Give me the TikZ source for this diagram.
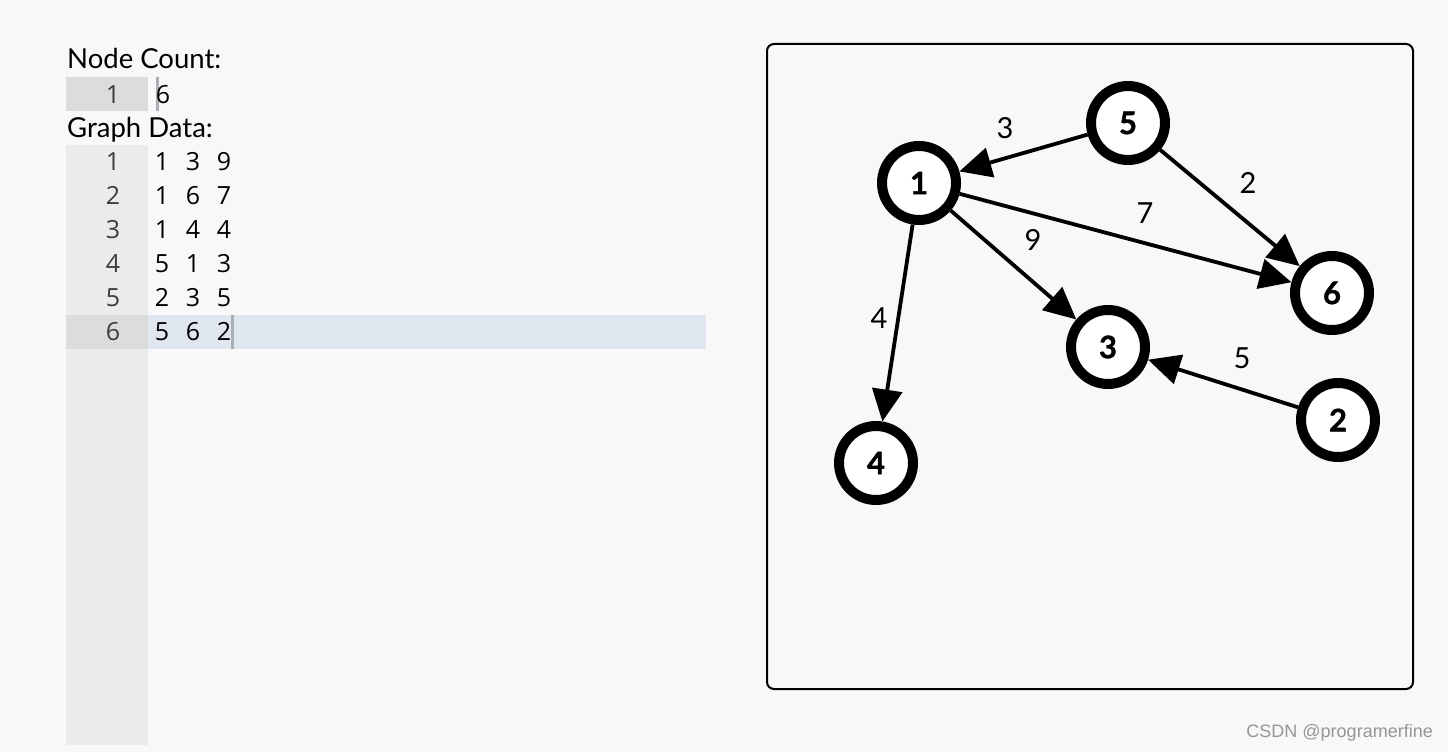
\documentclass[tikz,border=0pt]{standalone}
\usepackage{fontspec}
\setmainfont{Lato}
\newfontfamily\codefont{Open Sans}
\newfontfamily\wmfont{Liberation Sans}
\newfontfamily\nodefont{Lato}[BoldFeatures={FakeBold=1.2}]
\usetikzlibrary{arrows.meta}
\definecolor{bg}{RGB}{248,248,248}
\definecolor{gutter}{RGB}{235,235,235}
\definecolor{gutteract}{RGB}{220,220,220}
\definecolor{hl}{RGB}{223,230,239}
\definecolor{cursor}{RGB}{170,175,182}
\definecolor{lnum}{RGB}{60,60,60}
\definecolor{wm}{RGB}{150,150,150}
\tikzset{
  gnode/.style={circle, draw=black, fill=white, line width=10pt, minimum size=74pt, inner sep=0pt,
    font=\nodefont\bfseries\fontsize{31}{34}\selectfont},
  gedge/.style={line width=3.8pt, -{Triangle[length=32pt,width=30pt]}},
  elabel/.style={font=\fontsize{29}{32}\selectfont, inner sep=0pt},
  head/.style={font=\fontsize{27.5}{32}\selectfont, anchor=base west, inner sep=0pt},
  lnumst/.style={font=\codefont\fontsize{25}{30}\selectfont, text=lnum, inner sep=0pt, anchor=base},
  codest/.style={font=\codefont\fontsize{25}{30}\selectfont, inner sep=0pt, anchor=base},
}
\begin{document}
\begin{tikzpicture}[x=1pt,y=-1pt]
\fill[bg] (0,0) rectangle (1448,752);
\useasboundingbox (0,0) rectangle (1448,752);
% editor: node count
\fill[gutteract] (66,77) rectangle (148,111);
\fill[cursor] (156,77) rectangle (159,111);
\node[head] (hdr1) at (67,68) {Node Count:};
\node[lnumst] (nc1) at (113,103) {1};
\node[codest] (ncv) at (163,103) {6};
% editor: graph data
\node[head] (hdr2) at (67,137) {Graph Data:};
\fill[gutter] (66,145) rectangle (148,745);
\fill[gutteract] (66,315) rectangle (148,349);
\fill[hl] (148,315) rectangle (706,349);
\fill[cursor] (231,315) rectangle (234,349);
\foreach \i/\a/\b/\c in {1/1/3/9, 2/1/6/7, 3/1/4/4, 4/5/1/3, 5/2/3/5, 6/5/6/2}{
  \node[lnumst] (ln\i) at (113,{136+34*\i}) {\i};
  \node[codest] (ca\i) at (162,{136+34*\i}) {\a};
  \node[codest] (cb\i) at (193,{136+34*\i}) {\b};
  \node[codest] (cc\i) at (224,{136+34*\i}) {\c};
}
% graph panel
\draw[line width=2pt, rounded corners=7pt] (767,44) rectangle (1413,689);
\node[gnode] (n1) at (919,183) {1};
\node[gnode] (n5) at (1128,123) {5};
\node[gnode] (n6) at (1332,293) {6};
\node[gnode] (n3) at (1108,347) {3};
\node[gnode] (n2) at (1338,420) {2};
\node[gnode] (n4) at (876,463) {4};
\draw[gedge] (n1) -- (n3);
\draw[gedge] (n1) -- (n6);
\draw[gedge] (n1) -- (n4);
\draw[gedge] (n5) -- (n1);
\draw[gedge] (n2) -- (n3);
\draw[gedge] (n5) -- (n6);
\node[elabel] (l13) at (1033,240) {9};
\node[elabel] (l16) at (1145,213) {7};
\node[elabel] (l14) at (879,318) {4};
\node[elabel] (l51) at (1005,128) {3};
\node[elabel] (l23) at (1242,358) {5};
\node[elabel] (l56) at (1248,183) {2};
\node[font=\wmfont\fontsize{18}{21}\selectfont, text=wm, anchor=east, inner sep=0pt] (wmk) at (1433,733) {CSDN @programerfine};
\end{tikzpicture}
\end{document}
